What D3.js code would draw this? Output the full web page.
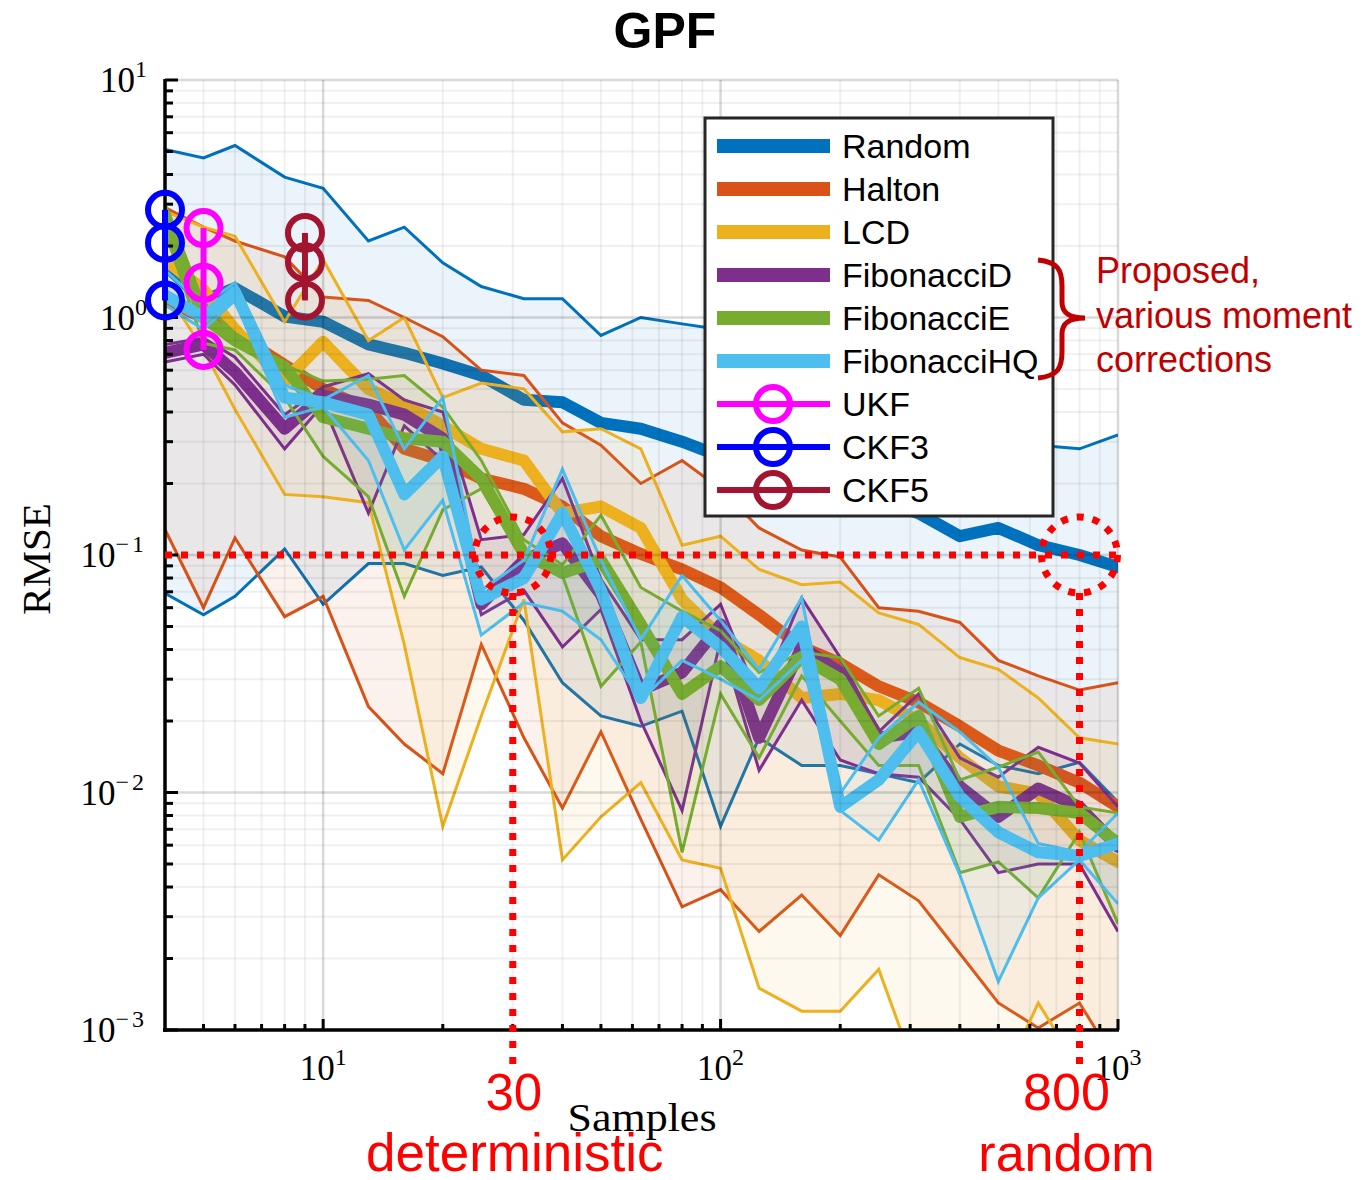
<!DOCTYPE html>
<html>
<head>
<meta charset="utf-8">
<script src="https://cdn.jsdelivr.net/npm/d3@7"></script>
<style>
  body { margin: 0; background: #fff; }
  text { font-family: "Liberation Sans", Arial, sans-serif; }
  .serif { font-family: "Liberation Serif", "Times New Roman", serif; }
</style>
</head>
<body>
<svg id="chart" width="1370" height="1180"></svg>
<script>

// sample counts on the x axis
var samples = [4, 5, 6, 8, 10, 13, 16, 20, 25, 32, 40, 50, 63, 80, 100, 125, 160, 200, 250, 315, 400, 500, 630, 800, 1000];

// RMSE per method: upper thin line, thick mean line, lower thin line
var randomHi   = [5.1, 4.7, 5.3, 3.9, 3.5, 2.1, 2.4, 1.7, 1.35, 1.2, 1.2, 0.84, 1.0, 0.94, 0.89, 0.80, 0.70, 0.60, 0.52, 0.45, 0.39, 0.34, 0.29, 0.28, 0.32];
var randomMean = [1.66, 1.18, 1.33, 1.01, 0.96, 0.77, 0.71, 0.64, 0.57, 0.45, 0.44, 0.36, 0.34, 0.30, 0.26, 0.24, 0.21, 0.19, 0.17, 0.15, 0.12, 0.13, 0.11, 0.10, 0.089];
var randomLo   = [0.069, 0.056, 0.067, 0.106, 0.062, 0.092, 0.092, 0.082, 0.089, 0.053, 0.029, 0.021, 0.019, 0.022, 0.0072, 0.017, 0.013, 0.013, 0.012, 0.011, 0.016, 0.013, 0.012, 0.0134, 0.0091];

var haltonHi   = [2.9, 2.4, 2.1, 1.8, 1.22, 1.18, 1.0, 0.83, 0.60, 0.57, 0.36, 0.29, 0.20, 0.25, 0.19, 0.13, 0.105, 0.098, 0.060, 0.058, 0.052, 0.036, 0.031, 0.027, 0.029];
var haltonMean = [1.18, 1.0, 0.86, 0.63, 0.50, 0.41, 0.28, 0.25, 0.21, 0.19, 0.16, 0.12, 0.101, 0.087, 0.073, 0.056, 0.041, 0.035, 0.028, 0.024, 0.019, 0.015, 0.013, 0.011, 0.0087];
var haltonLo   = [0.128, 0.060, 0.118, 0.055, 0.067, 0.023, 0.016, 0.012, 0.042, 0.017, 0.0086, 0.018, 0.0077, 0.0033, 0.0039, 0.0026, 0.0037, 0.0025, 0.0045, 0.0035, 0.0021, 0.0013, 0.00102, 0.0013, 0.00071];

var lcdHi   = [2.8, 2.4, 2.2, 0.96, 1.75, 0.80, 1.0, 0.46, 0.53, 0.50, 0.33, 0.34, 0.28, 0.11, 0.12, 0.087, 0.075, 0.077, 0.057, 0.051, 0.037, 0.033, 0.025, 0.017, 0.016];
var lcdMean = [1.75, 1.31, 0.89, 0.54, 0.79, 0.50, 0.43, 0.35, 0.28, 0.25, 0.15, 0.16, 0.13, 0.065, 0.045, 0.036, 0.025, 0.026, 0.0245, 0.020, 0.014, 0.0106, 0.0099, 0.0063, 0.0051];
var lcdLo   = [1.31, 0.73, 0.41, 0.18, 0.176, 0.166, 0.042, 0.0072, 0.021, 0.065, 0.0052, 0.0079, 0.011, 0.0052, 0.0048, 0.0015, 0.0012, 0.0012, 0.0018, 0.00062, 0.00042, 0.00056, 0.0013, 0.00068, 0.00075];

var fibDHi   = [0.77, 0.82, 0.68, 0.39, 0.51, 0.58, 0.45, 0.40, 0.116, 0.122, 0.21, 0.079, 0.044, 0.044, 0.062, 0.0245, 0.066, 0.037, 0.018, 0.026, 0.014, 0.0116, 0.0155, 0.0133, 0.0087];
var fibDMean = [0.71, 0.77, 0.59, 0.34, 0.47, 0.43, 0.39, 0.31, 0.062, 0.095, 0.112, 0.068, 0.027, 0.032, 0.051, 0.017, 0.041, 0.032, 0.017, 0.018, 0.0106, 0.0079, 0.0104, 0.0087, 0.0059];
var fibDLo   = [0.65, 0.70, 0.52, 0.28, 0.43, 0.15, 0.35, 0.25, 0.056, 0.071, 0.041, 0.059, 0.020, 0.0084, 0.044, 0.0124, 0.0245, 0.0137, 0.012, 0.0116, 0.0077, 0.0046, 0.0050, 0.0050, 0.0026];

var fibEHi   = [3.0, 1.15, 0.86, 0.63, 0.54, 0.55, 0.57, 0.42, 0.25, 0.116, 0.091, 0.147, 0.073, 0.058, 0.048, 0.032, 0.039, 0.037, 0.021, 0.0275, 0.0113, 0.0128, 0.0148, 0.0087, 0.0082];
var fibEMean = [2.7, 1.0, 0.80, 0.62, 0.38, 0.34, 0.31, 0.30, 0.21, 0.101, 0.084, 0.095, 0.051, 0.026, 0.034, 0.0245, 0.037, 0.030, 0.016, 0.021, 0.0079, 0.0087, 0.0086, 0.0082, 0.0061];
var fibELo   = [2.3, 0.78, 0.73, 0.46, 0.26, 0.176, 0.067, 0.155, 0.19, 0.095, 0.082, 0.028, 0.043, 0.0056, 0.026, 0.014, 0.031, 0.020, 0.013, 0.013, 0.0046, 0.0051, 0.0036, 0.0068, 0.0028];

var fibHQHi   = [1.58, 1.13, 1.40, 0.52, 0.45, 0.57, 0.28, 0.46, 0.071, 0.095, 0.23, 0.095, 0.044, 0.082, 0.053, 0.033, 0.066, 0.0099, 0.017, 0.024, 0.018, 0.0128, 0.0061, 0.0056, 0.0082];
var fibHQMean = [1.24, 1.0, 1.28, 0.46, 0.44, 0.39, 0.18, 0.26, 0.065, 0.080, 0.15, 0.071, 0.025, 0.055, 0.041, 0.0275, 0.050, 0.0087, 0.0113, 0.018, 0.0096, 0.0068, 0.0056, 0.0054, 0.0061];
var fibHQLo   = [1.13, 0.89, 1.18, 0.38, 0.42, 0.25, 0.105, 0.17, 0.046, 0.063, 0.058, 0.044, 0.0245, 0.036, 0.030, 0.0245, 0.036, 0.0084, 0.0063, 0.0113, 0.0045, 0.0016, 0.0036, 0.0052, 0.0034];

// sigma point filters: one sample count, three RMSE values each
var ukfN = 5,  ukfVals  = [2.38, 1.40, 0.73];
var ckf3N = 4, ckf3Vals = [2.84, 2.06, 1.18];
var ckf5N = 9, ckf5Vals = [2.27, 1.71, 1.18];

// axis ticks
var xTickVals = [10, 100, 1000];
var xTickExps = ['1', '2', '3'];
var yTickVals = [1e-3, 1e-2, 1e-1, 1, 10];
var yTickExps = ['\u22123', '\u22122', '\u22121', '0', '1'];

// annotation points (samples, RMSE)
var markN = [30, 800];
var markRmse = 0.1;

var methods = [
    { name: 'Random',      color: '#0072BD', hi: randomHi, mean: randomMean, lo: randomLo },
    { name: 'Halton',      color: '#D95319', hi: haltonHi, mean: haltonMean, lo: haltonLo },
    { name: 'LCD',         color: '#EDB120', hi: lcdHi,    mean: lcdMean,    lo: lcdLo },
    { name: 'FibonacciD',  color: '#7E2F8E', hi: fibDHi,   mean: fibDMean,   lo: fibDLo },
    { name: 'FibonacciE',  color: '#77AC30', hi: fibEHi,   mean: fibEMean,   lo: fibELo },
    { name: 'FibonacciHQ', color: '#4DBEEE', hi: fibHQHi,  mean: fibHQMean,  lo: fibHQLo }
];
var filters = [
    { name: 'UKF',  color: '#FF00FF', n: ukfN,  vals: ukfVals },
    { name: 'CKF3', color: '#0000FF', n: ckf3N, vals: ckf3Vals },
    { name: 'CKF5', color: '#A2142F', n: ckf5N, vals: ckf5Vals }
];

var svg = d3.select('#chart');

var xScale = d3.scaleLog().domain([4, 1000]).range([165, 1118]);
var yScale = d3.scaleLog().domain([1e-3, 10]).range([1030, 80]);

var x0 = xScale.range()[0], x1 = xScale.range()[1];
var yTop = yScale.range()[1], yBot = yScale.range()[0];

svg.append('defs').append('clipPath').attr('id', 'plotClip')
    .append('rect')
    .attr('x', x0).attr('y', yTop)
    .attr('width', x1 - x0).attr('height', yBot - yTop);

var plot = svg.append('g').attr('clip-path', 'url(#plotClip)');

var lineOf = function (key) {
    return d3.line()
        .x(function (d) { return xScale(d.n); })
        .y(function (d) { return yScale(d[key]); });
};
var band = d3.area()
    .x(function (d) { return xScale(d.n); })
    .y0(function (d) { return yScale(d.lo); })
    .y1(function (d) { return yScale(d.hi); });

// bands, thin bounds and thick mean per method
methods.forEach(function (m) {
    var pts = samples.map(function (n, i) {
        return { n: n, hi: m.hi[i], mean: m.mean[i], lo: m.lo[i] };
    });
    var g = plot.append('g').attr('class', 'method');

    g.append('path')
        .attr('d', band(pts))
        .attr('fill', m.color)
        .attr('fill-opacity', 0.08);

    ['hi', 'lo'].forEach(function (k) {
        g.append('path')
            .attr('d', lineOf(k)(pts))
            .attr('fill', 'none')
            .attr('stroke', m.color)
            .attr('stroke-width', 3);
    });

    g.append('path')
        .attr('d', lineOf('mean')(pts))
        .attr('fill', 'none')
        .attr('stroke', m.color)
        .attr('stroke-width', 12)
        .attr('stroke-linejoin', 'round')
        .attr('stroke-linecap', 'round');
});

// grid, drawn over the data with low alpha
var minorX = [], minorY = [];
[1, 10, 100].forEach(function (dec) {
    for (var k = 2; k <= 9; k++) {
        var v = k * dec;
        if (v > 4 && v < 1000) minorX.push(v);
    }
});
[1e-3, 1e-2, 1e-1, 1].forEach(function (dec) {
    for (var k = 2; k <= 9; k++) minorY.push(k * dec);
});

var grid = svg.append('g').attr('class', 'grid');
grid.selectAll('line.minor-x').data(minorX).enter().append('line')
    .attr('x1', xScale).attr('x2', xScale)
    .attr('y1', yTop).attr('y2', yBot)
    .attr('stroke', '#000').attr('stroke-opacity', 0.06).attr('stroke-width', 2);
grid.selectAll('line.minor-y').data(minorY).enter().append('line')
    .attr('y1', yScale).attr('y2', yScale)
    .attr('x1', x0).attr('x2', x1)
    .attr('stroke', '#000').attr('stroke-opacity', 0.06).attr('stroke-width', 2);
grid.selectAll('line.major-x').data([10, 100, 1000]).enter().append('line')
    .attr('x1', xScale).attr('x2', xScale)
    .attr('y1', yTop).attr('y2', yBot)
    .attr('stroke', '#000').attr('stroke-opacity', 0.15).attr('stroke-width', 2.5);
grid.selectAll('line.major-y').data([1e-2, 1e-1, 1, 10]).enter().append('line')
    .attr('y1', yScale).attr('y2', yScale)
    .attr('x1', x0).attr('x2', x1)
    .attr('stroke', '#000').attr('stroke-opacity', 0.15).attr('stroke-width', 2.5);

// axes: black left and bottom spines with inward ticks
var axes = svg.append('g').attr('class', 'axes');
axes.selectAll('line.ytick').data(yTickVals.concat(minorY)).enter().append('line')
    .attr('x1', x0)
    .attr('x2', function (d) { return x0 + (yTickVals.indexOf(d) >= 0 ? 13 : 8); })
    .attr('y1', yScale).attr('y2', yScale)
    .attr('stroke', '#000').attr('stroke-width', 3);
axes.selectAll('line.xtick').data(xTickVals.concat(minorX)).enter().append('line')
    .attr('y1', yBot)
    .attr('y2', function (d) { return yBot - (xTickVals.indexOf(d) >= 0 ? 11 : 6); })
    .attr('x1', xScale).attr('x2', xScale)
    .attr('stroke', '#000').attr('stroke-width', 3);
axes.append('line')
    .attr('x1', x0).attr('x2', x0).attr('y1', yTop - 1).attr('y2', yBot + 2)
    .attr('stroke', '#000').attr('stroke-width', 3.5);
axes.append('line')
    .attr('x1', x0 - 2).attr('x2', x1 + 1).attr('y1', yBot).attr('y2', yBot)
    .attr('stroke', '#000').attr('stroke-width', 3.5);

// tick labels
var yLabels = axes.selectAll('text.ylab').data(yTickVals).enter().append('text')
    .attr('class', 'serif')
    .attr('x', 147)
    .attr('y', function (d) { return yScale(d) + 12; })
    .attr('text-anchor', 'end')
    .attr('font-size', 35);
yLabels.append('tspan').text('10');
yLabels.append('tspan')
    .attr('dy', -15).attr('font-size', 24)
    .attr('letter-spacing', function (d, i) { return yTickExps[i].length > 1 ? 3 : 0; })
    .text(function (d, i) { return yTickExps[i]; });

var xLabels = axes.selectAll('text.xlab').data(xTickVals).enter().append('text')
    .attr('class', 'serif')
    .attr('x', function (d) { return xScale(d); })
    .attr('y', 1080)
    .attr('text-anchor', 'middle')
    .attr('font-size', 35);
xLabels.append('tspan').text('10');
xLabels.append('tspan')
    .attr('dy', -15).attr('font-size', 24)
    .text(function (d, i) { return xTickExps[i]; });

svg.append('text').attr('class', 'serif')
    .attr('x', 642).attr('y', 1131)
    .attr('text-anchor', 'middle').attr('font-size', 40)
    .attr('textLength', 149).attr('lengthAdjust', 'spacingAndGlyphs')
    .text('Samples');
svg.append('text').attr('class', 'serif')
    .attr('transform', 'translate(50,559) rotate(-90)')
    .attr('text-anchor', 'middle').attr('font-size', 41)
    .attr('textLength', 112).attr('lengthAdjust', 'spacingAndGlyphs')
    .text('RMSE');

svg.append('text')
    .attr('x', 665).attr('y', 48)
    .attr('text-anchor', 'middle')
    .attr('font-size', 50).attr('font-weight', 'bold')
    .text('GPF');

// UKF / CKF markers
filters.forEach(function (f) {
    var g = svg.append('g').attr('class', 'filter');
    var cx = xScale(f.n);
    g.append('line')
        .attr('x1', cx).attr('x2', cx)
        .attr('y1', yScale(d3.max(f.vals))).attr('y2', yScale(d3.min(f.vals)))
        .attr('stroke', f.color).attr('stroke-width', 6);
    g.selectAll('circle').data(f.vals).enter().append('circle')
        .attr('cx', cx)
        .attr('cy', function (d) { return yScale(d); })
        .attr('r', 17)
        .attr('fill', 'none')
        .attr('stroke', f.color)
        .attr('stroke-width', 6);
});

// red dotted annotations
var red = '#FF0000';
var dots = '7 9';
var ann = svg.append('g').attr('class', 'annotation');
ann.append('line')
    .attr('x1', x0).attr('x2', x1)
    .attr('y1', yScale(markRmse)).attr('y2', yScale(markRmse))
    .attr('stroke', red).attr('stroke-width', 7).attr('stroke-dasharray', dots);
markN.forEach(function (n) {
    var cx = xScale(n), cy = yScale(markRmse);
    ann.append('circle')
        .attr('cx', cx).attr('cy', cy).attr('r', 38)
        .attr('fill', 'none')
        .attr('stroke', red).attr('stroke-width', 7).attr('stroke-dasharray', dots);
    ann.append('line')
        .attr('x1', cx).attr('x2', cx)
        .attr('y1', cy + 38).attr('y2', 1070)
        .attr('stroke', red).attr('stroke-width', 7).attr('stroke-dasharray', dots);
});
ann.append('text').attr('x', xScale(markN[0]) + 1).attr('y', 1110)
    .attr('text-anchor', 'middle').attr('font-size', 51).attr('fill', red).text('30');
ann.append('text').attr('x', xScale(markN[0]) + 2).attr('y', 1171)
    .attr('text-anchor', 'middle').attr('font-size', 53).attr('fill', red).text('deterministic');
ann.append('text').attr('x', xScale(markN[1]) - 13).attr('y', 1110)
    .attr('text-anchor', 'middle').attr('font-size', 52).attr('fill', red).text('800');
ann.append('text').attr('x', xScale(markN[1]) - 13).attr('y', 1171)
    .attr('text-anchor', 'middle').attr('font-size', 52).attr('fill', red).text('random');

// legend
var legend = svg.append('g').attr('class', 'legend');
legend.append('rect')
    .attr('x', 705).attr('y', 118).attr('width', 348).attr('height', 398)
    .attr('fill', '#fff').attr('stroke', '#262626').attr('stroke-width', 3);

var entries = methods.map(function (m) { return { name: m.name, color: m.color, marker: false }; })
    .concat(filters.map(function (f) { return { name: f.name, color: f.color, marker: true }; }));

var rows = legend.selectAll('g.row').data(entries).enter().append('g')
    .attr('class', 'row')
    .attr('transform', function (d, i) { return 'translate(0,' + (146 + i * 43) + ')'; });
rows.append('line')
    .attr('x1', 717).attr('x2', 830).attr('y1', 0).attr('y2', 0)
    .attr('stroke', function (d) { return d.color; })
    .attr('stroke-width', function (d) { return d.marker ? 6 : 14; });
rows.filter(function (d) { return d.marker; }).append('circle')
    .attr('cx', 773).attr('cy', 0).attr('r', 17)
    .attr('fill', 'none')
    .attr('stroke', function (d) { return d.color; })
    .attr('stroke-width', 6);
rows.append('text')
    .attr('x', 842).attr('y', 12)
    .attr('font-size', 34)
    .attr('fill', '#000')
    .text(function (d) { return d.name; });

// brace and note for the proposed methods
var darkRed = '#C00000';
svg.append('path')
    .attr('d', 'M1038,260 C1058,262 1062,270 1062,286 L1062,302 C1062,312 1068,318 1085,318 C1068,318 1062,324 1062,334 L1062,352 C1062,368 1058,376 1038,378')
    .attr('fill', 'none').attr('stroke', darkRed).attr('stroke-width', 5);
['Proposed,', 'various moment', 'corrections'].forEach(function (t, i) {
    svg.append('text')
        .attr('x', 1096).attr('y', 283 + i * 44.5)
        .attr('font-size', 36).attr('fill', darkRed)
        .text(t);
});

</script>
</body>
</html>
